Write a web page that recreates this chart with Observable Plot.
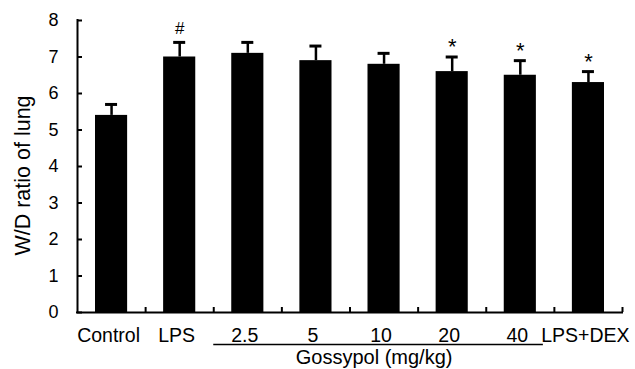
<!DOCTYPE html>
<html>
<head>
<meta charset="utf-8">
<script src="https://cdn.jsdelivr.net/npm/d3@7"></script>
<script src="https://cdn.jsdelivr.net/npm/@observablehq/plot@0.6"></script>
<style>
  html, body { margin: 0; padding: 0; background: #fff; }
</style>
</head>
<body>
<div id="chart"></div>
<script>
const categories = ["Control", "LPS", "2.5", "5", "10", "20", "40", "LPS+DEX"];
const means = [5.4, 7.0, 7.1, 6.9, 6.8, 6.6, 6.5, 6.3];
const sds = [0.3, 0.4, 0.3, 0.4, 0.3, 0.4, 0.4, 0.3];
const significance = ["", "#", "", "", "", "*", "*", "*"];
const yTicks = [0, 1, 2, 3, 4, 5, 6, 7, 8];
const yLabel = "W/D ratio of lung";
const groupLabel = "Gossypol (mg/kg)";
const groupStart = 2; // first category index of the group
const groupEnd = 7;   // index after last category of the group

const data = categories.map((c, i) => ({
  c, i, mean: means[i], sd: sds[i], top: means[i] + sds[i], mark: significance[i]
}));
const boundaries = d3.range(1, categories.length + 1);

const font = "'Liberation Sans', Arial, sans-serif";

const chart = Plot.plot({
  width: 635,
  height: 369,
  marginLeft: 77,
  marginRight: 13,
  marginTop: 20,
  marginBottom: 57,
  style: { fontFamily: font, background: "#fff", color: "#000" },
  x: { type: "linear", domain: [0, categories.length], axis: null },
  y: { domain: [0, 8], axis: null },
  marks: [
    // bars
    Plot.rectY(data, { x1: d => d.i, x2: d => d.i + 1, y: "mean", insetLeft: 18, insetRight: 18, fill: "#000" }),
    // error bars
    Plot.ruleX(data, { x: d => d.i + 0.5, y1: "mean", y2: "top", stroke: "#000", strokeWidth: 2.5 }),
    Plot.ruleY(data, { y: "top", x1: d => d.i + 0.5, x2: d => d.i + 0.5, insetLeft: -6, insetRight: -6, stroke: "#000", strokeWidth: 3 }),
    // significance marks
    Plot.text(data.filter(d => d.mark === "#"), { x: d => d.i + 0.5, y: "top", text: "mark", dy: -14, fontSize: 17, fill: "#000" }),
    Plot.text(data.filter(d => d.mark === "*"), { x: d => d.i + 0.5, y: "top", text: "mark", dy: -10, fontSize: 22, fill: "#000" }),
    // y axis
    Plot.ruleX([0], { x: 0, y1: 0, y2: 8, stroke: "#000", strokeWidth: 2, strokeLinecap: "square" }),
    Plot.ruleY(yTicks, { y: d => d, x1: 0, x2: 0, insetRight: -5, stroke: "#000", strokeWidth: 2 }),
    Plot.text(yTicks, { x: 0, y: d => d, text: d => String(d), textAnchor: "end", dx: -19, fontSize: 18, fill: "#000" }),
    Plot.text([yLabel], { frameAnchor: "left", textAnchor: "middle", rotate: -90, dx: -54, dy: 9, fontSize: 21.5, fill: "#000" }),
    // x axis
    Plot.ruleY([0], { y: 0, x1: 0, x2: categories.length, stroke: "#000", strokeWidth: 2, strokeLinecap: "square" }),
    Plot.ruleX(boundaries, { x: d => d, y1: 0, y2: 0, insetBottom: 5, stroke: "#000", strokeWidth: 2 }),
    Plot.text(data, { x: d => d.i + 0.5, y: 0, text: "c", dy: 23, dx: -3, fontSize: 19.5, fill: "#000" }),
    // group line and label
    Plot.ruleY([0], { y: 0, x1: groupStart, x2: groupEnd, insetRight: 11, dy: 32, stroke: "#000", strokeWidth: 1.5 }),
    Plot.text([groupLabel], { x: (groupStart + groupEnd) / 2, y: 0, dy: 45, dx: -10, fontSize: 20, fill: "#000" })
  ]
});
document.getElementById("chart").appendChild(chart);
</script>
</body>
</html>
